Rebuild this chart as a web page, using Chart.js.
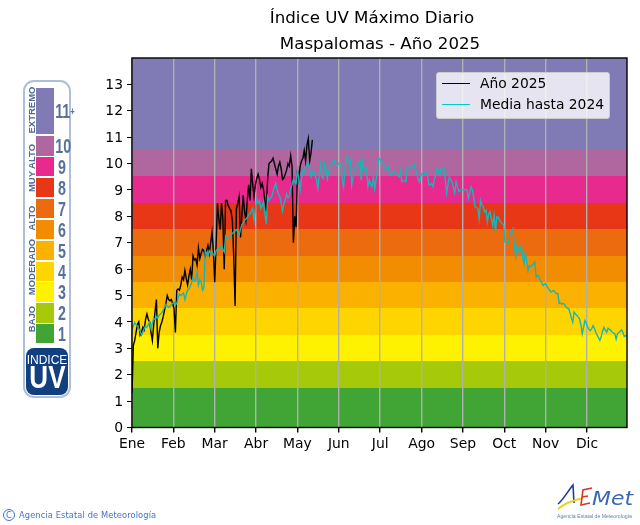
<!DOCTYPE html>
<html lang="es">
<head>
    <meta charset="UTF-8">
    <title>Índice UV Máximo Diario</title>
    <script src="https://cdn.jsdelivr.net/npm/chart.js"></script>
    <style>
        html, body { margin: 0; padding: 0; background: #fff; overflow: hidden; }
        body { width: 640px; height: 525px; position: relative; font-family: "DejaVu Sans", sans-serif; }
        #myChart { position: absolute; left: 0; top: 0; }
        .title { position: absolute; font-size: 16.67px; color: #000; white-space: nowrap; transform: translateX(-50%); line-height: 20px; }

        /* legend */
        #legend { position: absolute; left: 436px; top: 72px; width: 172px; height: 45px; background: rgba(255,255,255,.8);
                  border: 1px solid #ccc; border-radius: 3px; font-size: 13.85px; color: #000; }
        #legend div { position: absolute; left: 43px; white-space: nowrap; line-height: 16px; }
        #legend i { position: absolute; left: 5px; width: 28px; height: 1px; }

        /* uv scale on the left */
        #uvPanel { position: absolute; left: 23px; top: 80px; width: 44px; height: 314px; border: 2px solid #aebfd8; border-radius: 11px; }
        .uvCell { position: absolute; left: 36px; width: 18px; }
        .uvNum { position: absolute; left: 52px; width: 20px; text-align: center; color: #58719b; font: bold 21px "Liberation Sans", sans-serif; line-height: 20px; transform: scaleX(.68); white-space: nowrap; }
        .uvGroup { position: absolute; left: 31px; color: #4f6a94; font: bold 9.5px "Liberation Sans", sans-serif; white-space: nowrap;
                   transform: translate(-50%, -50%) rotate(-90deg); }
        #uvBox { position: absolute; left: 26px; top: 348px; width: 42px; height: 47px; background: #123f7e; border-radius: 8px; color: #fff; text-align: center; }
        #uvBox b { position: absolute; left: 0; right: 0; top: 15px; font: bold 31px/30px "Liberation Sans", sans-serif; transform: scaleX(.84); }
        #uvBox span { position: absolute; left: 0; right: 0; top: 5px; font: 12px/14px "Liberation Sans", sans-serif; }

        /* footer */
        #credit { position: absolute; left: 19px; top: 509px; font-size: 8.3px; line-height: 12px; color: #3f74d0; white-space: nowrap; letter-spacing: .1px; }
        #creditMark { position: absolute; left: 3px; top: 509px; width: 10px; height: 10px; border: 1px solid #3f74d0; border-radius: 50%;
                      font-size: 8.5px; line-height: 10px; text-align: center; color: #3f74d0; }
        #logo { position: absolute; left: 550px; top: 480px; }
    </style>
</head>
<body>
<canvas id="myChart" width="640" height="525"></canvas>

<div class="title" style="left:372px;top:8px">Índice UV Máximo Diario</div>
<div class="title" style="left:380px;top:34px">Maspalomas - Año 2025</div>
<div id="legend"></div>

<div id="uvPanel"></div>
<div id="uvBox"><span>INDICE</span><b>UV</b></div>

<div id="creditMark">C</div>
<div id="credit">Agencia Estatal de Meteorología</div>

<svg id="logo" width="90" height="45" viewBox="0 0 90 45">
    <path d="M8 24 C13 20 18 11 23 5 L24 23" fill="none" stroke="#1b3f8f" stroke-width="1.6"/>
    <path d="M8 29 C15 23 24 20 33 18" fill="none" stroke="#f4cf1e" stroke-width="1.8"/>
    <path d="M42 8 L33 10 L31 25 L40 23 M32 17 L38 16" fill="none" stroke="#d8362a" stroke-width="1.6"/>
    <text x="42" y="25" font-family="DejaVu Sans" font-style="oblique" font-size="20" fill="#3b68b4" textLength="41" lengthAdjust="spacingAndGlyphs">Met</text>
    <text x="7" y="38" font-family="Liberation Sans" font-size="6" fill="#5b86b8" textLength="75" lengthAdjust="spacingAndGlyphs">Agencia Estatal de Meteorología</text>
</svg>

<script>
    const monthLabels = ['Ene', 'Feb', 'Mar', 'Abr', 'May', 'Jun', 'Jul', 'Ago', 'Sep', 'Oct', 'Nov', 'Dic'];
    const monthTicks = [0, 30.5, 61, 91.5, 122, 152.5, 183, 213.5, 244, 274.5, 305, 335.5];
    const uvTicks = [0, 1, 2, 3, 4, 5, 6, 7, 8, 9, 10, 11, 12, 13];

    // value of the index per day of the year
    const days2025 = [
        1.3, 3.1, 3.3, 3.6, 3.9, 4.0, 3.5, 3.6, 3.8, 3.7,
        4.1, 4.3, 4.1, 4.0, 3.6, 3.3, 3.9, 4.4, 4.85, 3.0,
        3.6, 3.85, 4.0, 4.2, 4.45, 4.7, 5.0, 4.85, 4.8, 4.85,
        4.7, 4.5, 3.6, 5.2, 5.25, 5.2, 5.4, 5.7, 5.6, 5.95,
        5.65, 5.4, 5.75, 6.0, 5.6, 6.5, 6.35, 6.4, 6.15, 6.8,
        6.4, 6.6, 6.75, 6.7, 6.5, 6.7, 6.9, 6.6, 7.0, 7.4,
        6.7, 5.5, 6.9, 8.5, 7.9, 7.5, 8.5, 7.9, 6.0, 8.6,
        8.6, 8.4, 8.3, 8.2, 7.85, 6.5, 4.6, 8.3, 8.5, 8.75,
        7.2, 8.0, 8.8, 8.2, 7.85, 8.6, 9.2, 8.6, 9.8, 9.2,
        8.75, 9.2, 9.45, 9.6, 9.4, 9.1, 9.25, 9.0, 8.6, 8.2,
        9.4, 10.0, 10.05, 10.1, 10.2, 10.0, 9.8, 9.6, 9.9, 10.05,
        9.8, 9.4, 9.45, 9.6, 9.75, 10.0, 9.9, 10.3, 9.9, 7.0,
        8.0, 7.6, 9.75, 9.4, 9.9, 10.1, 10.2, 10.5, 10.1, 10.7,
        10.95, 10.1, 10.4, 10.9
    ];
    const mediaHasta2024 = [
        3.70, 3.85, 3.97, 3.90, 3.85, 3.75, 3.65, 3.50, 3.60, 3.75,
        3.85, 3.80, 3.90, 4.00, 3.75, 3.95, 4.15, 4.10, 4.20, 4.15,
        4.25, 4.30, 4.35, 4.45, 4.55, 4.65, 4.60, 4.55, 4.60, 4.65,
        4.70, 4.75, 4.65, 4.70, 4.90, 5.05, 5.00, 5.05, 5.10, 4.85,
        5.05, 5.20, 5.25, 5.35, 5.50, 5.70, 5.55, 5.60, 5.90, 5.40,
        5.60, 5.50, 5.20, 5.30, 6.70, 6.60, 6.50, 6.70, 6.60, 6.65,
        6.55, 6.50, 6.70, 6.75, 6.80, 6.85, 6.90, 6.75, 6.65, 7.25,
        7.15, 7.20, 7.20, 7.30, 7.35, 7.40, 7.45, 7.50, 7.40, 7.30,
        7.50, 7.70, 7.75, 7.85, 7.90, 7.95, 8.05, 8.10, 8.20, 8.30,
        7.85, 8.30, 8.65, 8.50, 8.60, 8.30, 8.40, 8.55, 8.10, 7.70,
        8.75, 8.60, 8.70, 8.75, 8.95, 9.10, 9.25, 9.00, 8.85, 8.75,
        8.50, 8.20, 8.45, 8.65, 8.85, 8.70, 8.75, 9.05, 9.20, 9.40,
        9.30, 9.25, 9.75, 9.40, 9.00, 9.45, 9.75, 9.70, 9.85, 9.95,
        10.05, 9.80, 9.50, 9.65, 9.70, 9.55, 9.40, 9.05, 9.50, 9.94,
        9.50, 9.43, 10.00, 9.80, 9.43, 9.70, 9.94, 10.00, 10.05, 10.13,
        9.95, 9.90, 9.98, 10.03, 10.00, 9.37, 9.12, 9.80, 10.25, 10.10,
        10.00, 10.13, 9.18, 9.50, 9.80, 9.90, 9.94, 10.00, 10.13, 9.37,
        10.07, 9.85, 9.75, 9.80, 9.12, 9.37, 9.20, 9.12, 9.50, 9.05,
        9.40, 9.75, 10.20, 10.15, 10.10, 10.07, 9.85, 9.80, 9.82, 9.87,
        9.60, 9.56, 9.62, 9.69, 9.65, 9.62, 9.55, 9.50, 9.75, 9.31,
        9.34, 9.37, 9.31, 9.88, 9.85, 9.83, 9.82, 9.90, 9.98, 9.80,
        9.62, 9.40, 9.30, 9.55, 9.62, 9.56, 9.69, 9.60, 9.52, 9.18,
        9.20, 9.24, 9.12, 9.40, 9.60, 9.82, 9.65, 9.56, 9.82, 9.82,
        9.82, 9.40, 8.87, 9.20, 9.50, 9.40, 9.31, 9.10, 8.87, 9.31,
        9.10, 8.93, 8.98, 9.02, 9.00, 9.00, 9.02, 9.00, 8.68, 8.90,
        9.12, 9.00, 8.70, 8.36, 8.33, 8.30, 7.90, 8.60, 8.45, 8.36,
        8.17, 8.23, 7.79, 8.10, 8.17, 7.90, 7.66, 8.04, 7.40, 7.98,
        7.98, 7.85, 7.79, 7.72, 7.69, 7.03, 7.00, 6.96, 7.09, 7.40,
        7.45, 7.53, 6.84, 6.46, 6.90, 6.75, 6.65, 6.90, 6.50, 6.20,
        6.65, 6.30, 5.95, 6.14, 6.10, 6.14, 6.20, 6.27, 5.70, 5.76,
        5.72, 5.57, 5.50, 5.38, 5.42, 5.45, 5.35, 5.26, 5.20, 5.13,
        5.17, 5.19, 5.12, 5.07, 5.07, 4.70, 4.72, 4.68, 4.70, 4.65,
        4.56, 4.52, 4.50, 4.35, 4.15, 3.99, 4.37, 4.30, 4.25, 4.18,
        4.12, 3.90, 3.55, 3.80, 4.05, 3.95, 3.80, 3.72, 3.67, 3.75,
        3.86, 3.75, 3.61, 3.50, 3.40, 3.30, 3.45, 3.65, 3.80, 3.70,
        3.61, 3.76, 3.72, 3.68, 3.62, 3.58, 3.55, 3.35, 3.55, 3.60,
        3.65, 3.70, 3.60, 3.45, 3.48, 3.45
    ];

    // uv risk bands behind the lines
    const bandEdges = [0, 1.5, 2.5, 3.5, 4.5, 5.5, 6.5, 7.5, 8.5, 9.5, 10.5, 14];
    const bandColors = ['#40a535', '#a6c90a', '#fff200', '#ffd500', '#fbb100', '#f28c00', '#ec6b0e', '#e73716', '#e8298e', '#b0669e', '#807ab5'];

    const seriesNames = ['Año 2025', 'Media hasta 2024'];
    const seriesColors = ['#000000', '#00cccc'];

    // left hand scale: label, top, height
    const uvNumbers = ['1', '2', '3', '4', '5', '6', '7', '8', '9', '10', '11'];
    const uvCellTops = [324, 303, 282, 262, 241, 220, 199, 178, 157, 136, 88];
    const uvCellHeights = [19, 20, 20, 19, 19, 19, 19, 19, 19, 20, 46];
    const uvGroups = [['EXTREMO', 110], ['MUY ALTO', 168], ['ALTO', 218], ['MODERADO', 267], ['BAJO', 319]];

    uvNumbers.forEach((n, i) => {
        const cell = document.createElement('div');
        cell.className = 'uvCell';
        cell.style.top = uvCellTops[i] + 'px';
        cell.style.height = uvCellHeights[i] + 'px';
        cell.style.background = bandColors[i];
        document.body.appendChild(cell);

        const num = document.createElement('div');
        num.className = 'uvNum';
        num.style.top = (uvCellTops[i] + uvCellHeights[i] / 2 - 10) + 'px';
        num.innerHTML = n === '11' ? '11<span style="font-size:11px;vertical-align:3px">+</span>' : n;
        document.body.appendChild(num);
    });
    uvGroups.forEach(g => {
        const el = document.createElement('div');
        el.className = 'uvGroup';
        el.textContent = g[0];
        el.style.top = g[1] + 'px';
        document.body.appendChild(el);
    });

    seriesNames.forEach((name, i) => {
        const top = 2 + i * 21;
        document.getElementById('legend').insertAdjacentHTML('beforeend',
            `<i style="top:${top + 8}px;background:${seriesColors[i]}"></i><div style="top:${top}px">${name}</div>`);
    });

    const bandsPlugin = {
        id: 'bands',
        beforeDraw(chart) {
            const { ctx, chartArea, scales } = chart;
            bandColors.forEach((c, i) => {
                const yTop = Math.round(scales.y.getPixelForValue(bandEdges[i + 1]) - 0.4);
                const yBottom = Math.round(scales.y.getPixelForValue(bandEdges[i]) - 0.4);
                ctx.fillStyle = c;
                ctx.fillRect(chartArea.left, yTop, chartArea.right - chartArea.left, yBottom - yTop);
            });
        },
        afterDraw(chart) {
            const { ctx, chartArea } = chart;
            ctx.strokeStyle = '#000';
            ctx.lineWidth = 1.4;
            ctx.strokeRect(chartArea.left, chartArea.top, chartArea.right - chartArea.left, chartArea.bottom - chartArea.top);
        }
    };

    const toPoints = values => values.map((v, i) => ({ x: i, y: v }));

    new Chart(document.getElementById('myChart'), {
        type: 'line',
        data: {
            datasets: [
                { label: seriesNames[1], data: toPoints(mediaHasta2024), borderColor: '#1ab5b5', borderWidth: 1.4, pointRadius: 0, tension: 0, order: 1 },
                { label: seriesNames[0], data: toPoints(days2025), borderColor: seriesColors[0], borderWidth: 1.4, pointRadius: 0, tension: 0, order: 2 }
            ]
        },
        plugins: [bandsPlugin],
        options: {
            responsive: false,
            animation: false,
            layout: { padding: { left: 100, right: 13, top: 58, bottom: 72.5 }, autoPadding: false },
            plugins: { legend: { display: false }, title: { display: false }, tooltip: { enabled: false } },
            scales: {
                x: {
                    type: 'linear',
                    min: 0,
                    max: 365,
                    afterBuildTicks: axis => { axis.ticks = monthTicks.map(v => ({ value: v })); },
                    afterFit: axis => { axis.height = 25; },
                    grid: { color: '#b0b0b0', lineWidth: 1.4, tickColor: '#000', tickLength: 5 },
                    border: { display: false },
                    ticks: {
                        autoSkip: false,
                        maxRotation: 0,
                        padding: 4,
                        color: '#000',
                        font: { family: 'DejaVu Sans', size: 13.9 },
                        callback: (v, i) => monthLabels[i]
                    }
                },
                y: {
                    min: 0,
                    max: 14,
                    afterBuildTicks: axis => { axis.ticks = uvTicks.map(v => ({ value: v })); },
                    afterFit: axis => { axis.width = 32; },
                    grid: { drawOnChartArea: false, tickColor: '#000', tickLength: 5 },
                    border: { display: false },
                    ticks: {
                        padding: 4,
                        labelOffset: 1,
                        color: '#000',
                        font: { family: 'DejaVu Sans', size: 13.9 }
                    }
                }
            }
        }
    });
</script>
</body>
</html>
